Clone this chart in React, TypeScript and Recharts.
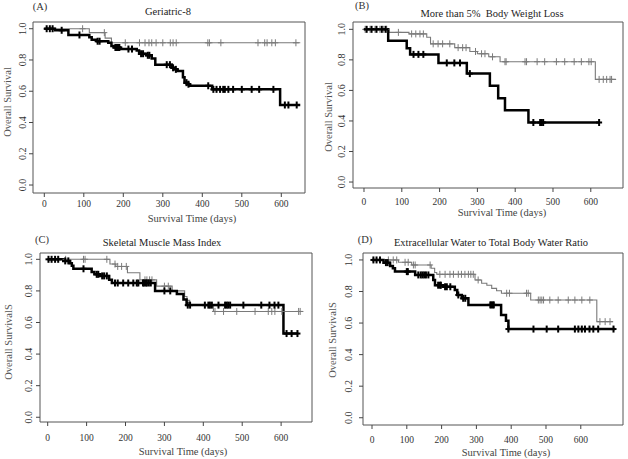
import React from "react";
import { ComposedChart, Line, Scatter, XAxis, YAxis, ReferenceArea } from "recharts";

const SERIF = '"Liberation Serif", "Times New Roman", serif';
const X_TICKS = [0, 100, 200, 300, 400, 500, 600];
const Y_TICKS = [0, 0.2, 0.4, 0.6, 0.8, 1];

// (A) Geriatric-8
const g8HighTimes = [114, 154, 170];
const g8HighSurv = [0.975, 0.94, 0.91];
const g8HighCens = [97, 152, 205, 241, 255, 265, 272, 283, 300, 319, 326, 334, 414, 418, 447, 541, 558, 564, 576, 585, 637];
const g8HighEnd = 648;

const g8LowTimes = [27, 61, 114, 120, 133, 162, 170, 176, 192, 234, 240, 258, 272, 281, 323, 330, 337, 351, 355, 362, 368, 425, 597];
const g8LowSurv = [0.99, 0.96, 0.945, 0.93, 0.92, 0.91, 0.89, 0.88, 0.87, 0.86, 0.84, 0.83, 0.81, 0.77, 0.75, 0.74, 0.73, 0.69, 0.655, 0.645, 0.635, 0.612, 0.512];
const g8LowCens = [6, 14, 21, 44, 89, 135, 140, 180, 184, 187, 190, 213, 222, 245, 250, 262, 266, 310, 318, 326, 333, 360, 365, 415, 428, 436, 445, 453, 457, 466, 478, 500, 525, 544, 580, 609, 618, 639];
const g8LowEnd = 648;

// (B) More than 5% body weight loss
const bwlNoTimes = [66, 119, 166, 176, 240, 280, 300, 330, 360, 612];
const bwlNoSurv = [0.98, 0.97, 0.948, 0.905, 0.88, 0.855, 0.84, 0.82, 0.788, 0.672];
const bwlNoCens = [3, 16, 29, 42, 51, 60, 91, 126, 137, 148, 157, 183, 196, 208, 227, 249, 261, 270, 295, 311, 320, 340, 373, 376, 426, 430, 458, 478, 509, 531, 556, 575, 595, 601, 622, 633, 642, 651, 655];
const bwlNoEnd = 667;

const bwlYesTimes = [64, 113, 122, 197, 272, 333, 355, 373, 435];
const bwlYesSurv = [0.926, 0.876, 0.836, 0.78, 0.71, 0.63, 0.548, 0.47, 0.39];
const bwlYesCens = [7, 20, 33, 47, 57, 131, 144, 157, 219, 239, 254, 280, 448, 466, 470, 474, 622];
const bwlYesEnd = 624;

// (C) Skeletal muscle mass index
const smiHighTimes = [160, 175, 205, 237, 280, 320, 352, 358, 365, 426];
const smiHighSurv = [0.97, 0.955, 0.915, 0.87, 0.83, 0.8, 0.765, 0.74, 0.71, 0.67];
const smiHighCens = [46, 92, 96, 152, 173, 180, 190, 202, 250, 255, 262, 268, 300, 310, 430, 452, 486, 533, 567, 576, 584, 602, 645, 649];
const smiHighEnd = 657;

const smiLowTimes = [40, 57, 62, 66, 113, 120, 135, 158, 165, 276, 332, 349, 357, 606];
const smiLowSurv = [0.99, 0.975, 0.96, 0.94, 0.92, 0.905, 0.895, 0.87, 0.85, 0.8, 0.78, 0.745, 0.71, 0.53];
const smiLowCens = [2, 10, 19, 27, 45, 53, 92, 126, 130, 140, 145, 152, 173, 180, 194, 207, 220, 229, 233, 245, 248, 252, 255, 260, 265, 300, 315, 360, 366, 404, 413, 417, 422, 439, 456, 460, 464, 469, 503, 549, 570, 583, 593, 614, 627, 642];
const smiLowEnd = 644;

// (D) Extracellular water to total body water ratio
const ecwLowTimes = [76, 114, 170, 180, 186, 296, 315, 330, 344, 358, 372, 456, 646];
const ecwLowSurv = [0.985, 0.968, 0.947, 0.92, 0.909, 0.873, 0.852, 0.84, 0.82, 0.805, 0.789, 0.746, 0.609];
const ecwLowCens = [47, 61, 71, 95, 104, 119, 124, 167, 195, 210, 224, 234, 248, 257, 267, 277, 284, 291, 305, 387, 395, 444, 449, 478, 483, 488, 493, 511, 535, 564, 583, 603, 626, 655, 670, 684];
const ecwLowEnd = 693;

const ecwHighTimes = [33, 52, 60, 66, 124, 176, 181, 205, 238, 245, 258, 277, 371, 385, 392];
const ecwHighSurv = [0.983, 0.962, 0.947, 0.926, 0.905, 0.873, 0.84, 0.83, 0.81, 0.778, 0.757, 0.715, 0.651, 0.615, 0.562];
const ecwHighCens = [4, 13, 23, 40, 45, 100, 103, 133, 140, 145, 150, 155, 162, 190, 195, 198, 210, 215, 225, 248, 262, 268, 340, 343, 347, 350, 392, 464, 502, 535, 583, 593, 603, 612, 625, 636, 650, 694];
const ecwHighEnd = 698;

type Curve = { times: number[]; surv: number[]; cens: number[]; end: number; thick: boolean };

const survAt = (c: Curve, t: number) => {
  let s = 1;
  c.times.forEach((tt, i) => {
    if (t >= tt) s = c.surv[i];
  });
  return s;
};

const stepData = (c: Curve) => [
  { t: 0, s: 1 },
  ...c.times.map((t, i) => ({ t, s: c.surv[i] })),
  { t: c.end, s: c.surv[c.surv.length - 1] },
];

const censData = (c: Curve) => c.cens.map((t) => ({ t, s: survAt(c, t) }));

const Plus = ({ cx, cy, thick, color }: any) => (
  <g stroke={color} strokeWidth={thick ? 2 : 1}>
    <line x1={cx} x2={cx} y1={cy - 3.5} y2={cy + 3.5} />
    <line x1={cx - 3} x2={cx + 3} y1={cy} y2={cy} />
  </g>
);

type Label = { text: string; x: number; y: number; rotate?: boolean; size?: number; color?: string };

type PanelProps = {
  box: { l: number; r: number; t: number; b: number };
  xDomain: [number, number];
  yDomain: [number, number];
  curves: Curve[];
  xTickOff: number;
  yTickOff: number;
  labels: Label[];
};

const YW = 30;
const XH = 28;
const THIN = "#7a7a7a";

function Panel({ box, xDomain, yDomain, curves, xTickOff, yTickOff, labels }: PanelProps) {
  const w = YW + (box.r - box.l) + 2;
  const h = box.b - box.t + 2 + XH;
  const XTick = (p: any) => (
    <text x={p.x} y={p.y - 4 + xTickOff + 3.3} textAnchor="middle" fontSize={9.5} fill="#333" fontFamily={SERIF}>
      {p.payload.value}
    </text>
  );
  const YTick = (p: any) => {
    const bx = p.x + 4 - yTickOff + 3.5;
    return (
      <text x={bx} y={p.y} transform={`rotate(-90 ${bx} ${p.y})`} textAnchor="middle" fontSize={10} fill="#333" fontFamily={SERIF}>
        {Number(p.payload.value).toFixed(1)}
      </text>
    );
  };
  return (
    <>
      <div style={{ position: "absolute", left: box.l - YW, top: box.t - 2 }}>
        <ComposedChart width={w} height={h} margin={{ top: 2, right: 2, left: 0, bottom: 0 }}>
          <XAxis
            type="number"
            dataKey="t"
            domain={xDomain}
            ticks={X_TICKS}
            interval={0}
            allowDataOverflow
            axisLine={false}
            tickSize={4}
            tickMargin={0}
            tickLine={{ stroke: "#444" }}
            tick={XTick}
            height={XH}
          />
          <YAxis
            type="number"
            dataKey="s"
            domain={yDomain}
            ticks={Y_TICKS}
            interval={0}
            allowDataOverflow
            axisLine={false}
            tickSize={4}
            tickMargin={0}
            tickLine={{ stroke: "#444" }}
            tick={YTick}
            width={YW}
          />
          <ReferenceArea
            x1={xDomain[0]}
            x2={xDomain[1]}
            y1={yDomain[0]}
            y2={yDomain[1]}
            fill="none"
            stroke="#555"
            strokeWidth={1}
            ifOverflow="visible"
          />
          {curves.map((c, i) => (
            <Line
              key={`l${i}`}
              data={stepData(c)}
              dataKey="s"
              type="stepAfter"
              stroke={c.thick ? "#000" : THIN}
              strokeWidth={c.thick ? 2.5 : 1.1}
              dot={false}
              isAnimationActive={false}
            />
          ))}
          {curves.map((c, i) => (
            <Scatter
              key={`c${i}`}
              data={censData(c)}
              isAnimationActive={false}
              shape={(p: any) => <Plus cx={p.cx} cy={p.cy} thick={c.thick} color={c.thick ? "#000" : THIN} />}
            />
          ))}
        </ComposedChart>
      </div>
      {labels.map((lb, i) => (
        <div
          key={i}
          style={{
            position: "absolute",
            left: lb.x,
            top: lb.y,
            transform: `translate(-50%, -50%)${lb.rotate ? " rotate(-90deg)" : ""}`,
            whiteSpace: "pre",
            fontFamily: SERIF,
            fontSize: lb.size ?? 10.5,
            lineHeight: 1,
            color: lb.color ?? "#333",
          }}
        >
          {lb.text}
        </div>
      ))}
    </>
  );
}

export default function App() {
  return (
    <div style={{ position: "absolute", left: 0, top: 0, width: 628, height: 459, background: "#fff", overflow: "hidden" }}>
      <Panel
        box={{ l: 33, r: 305, t: 22, b: 193 }}
        xDomain={[-28.6, 660]}
        yDomain={[-0.051, 1.043]}
        xTickOff={10.3}
        yTickOff={10.3}
        curves={[
          { times: g8HighTimes, surv: g8HighSurv, cens: g8HighCens, end: g8HighEnd, thick: false },
          { times: g8LowTimes, surv: g8LowSurv, cens: g8LowCens, end: g8LowEnd, thick: true },
        ]}
        labels={[
          { text: "(A)", x: 40, y: 7 },
          { text: "Geriatric-8", x: 168, y: 12, color: "#222" },
          { text: "Overall Survival", x: 8, y: 102, rotate: true, color: "#555" },
          { text: "Survival Time (days)", x: 192, y: 219, color: "#444" },
        ]}
      />
      <Panel
        box={{ l: 353, r: 623, t: 22, b: 188 }}
        xDomain={[-29.1, 685.2]}
        yDomain={[-0.039, 1.048]}
        xTickOff={13.4}
        yTickOff={11}
        curves={[
          { times: bwlNoTimes, surv: bwlNoSurv, cens: bwlNoCens, end: bwlNoEnd, thick: false },
          { times: bwlYesTimes, surv: bwlYesSurv, cens: bwlYesCens, end: bwlYesEnd, thick: true },
        ]}
        labels={[
          { text: "(B)", x: 362, y: 6 },
          { text: "More than 5%  Body Weight Loss", x: 492, y: 14, color: "#222" },
          { text: "Overall Survival", x: 329, y: 117, rotate: true, color: "#555" },
          { text: "Survival Time (days)", x: 502, y: 213, color: "#444" },
        ]}
      />
      <Panel
        box={{ l: 40, r: 312, t: 253, b: 422 }}
        xDomain={[-19.8, 679.4]}
        yDomain={[-0.03, 1.04]}
        xTickOff={15.7}
        yTickOff={11.7}
        curves={[
          { times: smiHighTimes, surv: smiHighSurv, cens: smiHighCens, end: smiHighEnd, thick: false },
          { times: smiLowTimes, surv: smiLowSurv, cens: smiLowCens, end: smiLowEnd, thick: true },
        ]}
        labels={[
          { text: "(C)", x: 42, y: 240 },
          { text: "Skeletal Muscle Mass Index", x: 162, y: 243, color: "#222" },
          { text: "Overall SurvivalS", x: 9, y: 342, rotate: true, color: "#555" },
          { text: "Survival Time (days)", x: 183, y: 452, color: "#444" },
        ]}
      />
      <Panel
        box={{ l: 363, r: 623, t: 253, b: 425 }}
        xDomain={[-25.9, 721.3]}
        yDomain={[-0.046, 1.044]}
        xTickOff={14.3}
        yTickOff={14.7}
        curves={[
          { times: ecwLowTimes, surv: ecwLowSurv, cens: ecwLowCens, end: ecwLowEnd, thick: false },
          { times: ecwHighTimes, surv: ecwHighSurv, cens: ecwHighCens, end: ecwHighEnd, thick: true },
        ]}
        labels={[
          { text: "(D)", x: 365, y: 240 },
          { text: "Extracellular Water to Total Body Water Ratio", x: 491, y: 243, color: "#222" },
          { text: "Overall SurvivalS", x: 333, y: 340, rotate: true, color: "#555" },
          { text: "Survival Time (days)", x: 506, y: 453, color: "#444" },
        ]}
      />
    </div>
  );
}
